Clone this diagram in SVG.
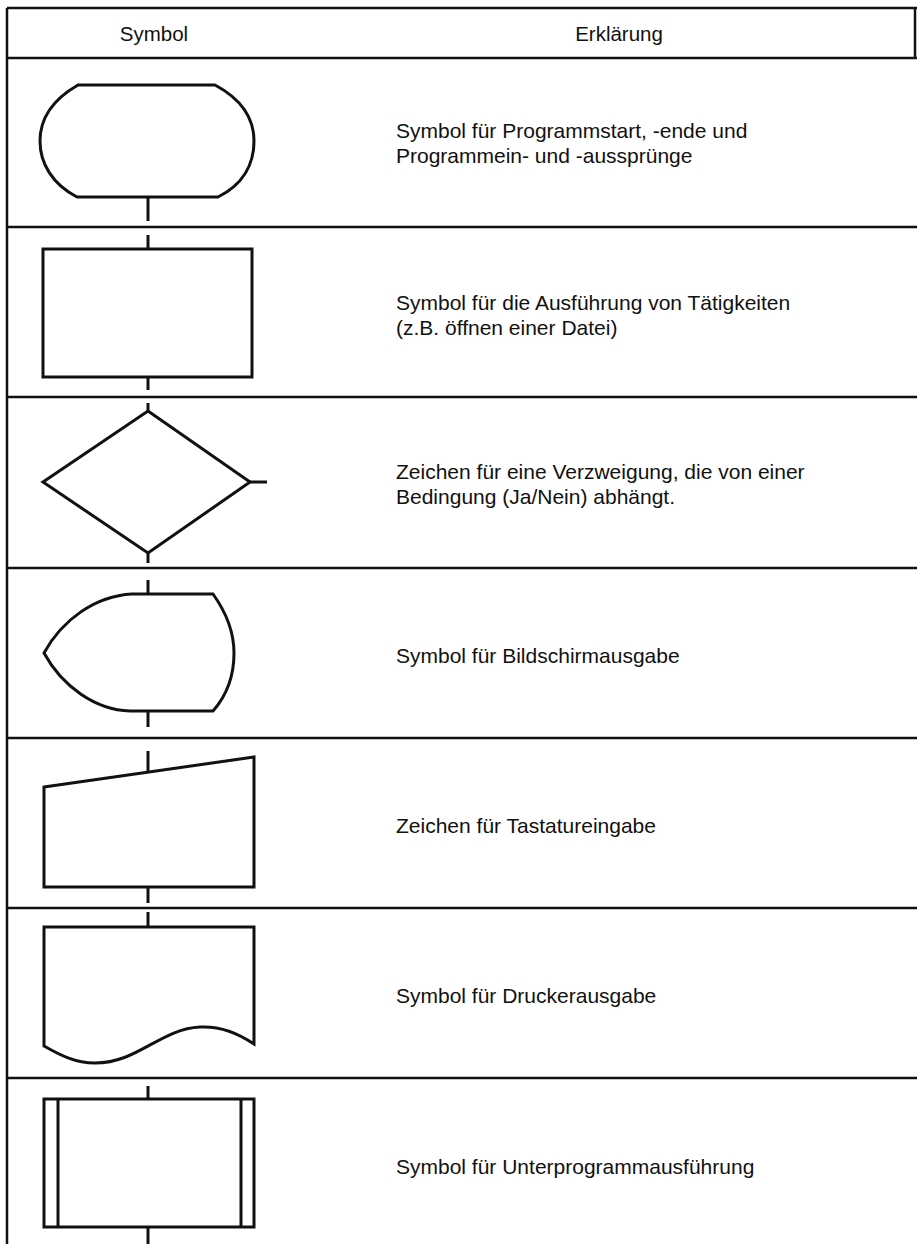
<svg xmlns="http://www.w3.org/2000/svg" width="917" height="1244" viewBox="0 0 917 1244">
<style>
.grid{stroke:#111;stroke-width:2.5;fill:none}
.shape{stroke:#111;stroke-width:3;fill:none;stroke-linejoin:miter}
.conn{stroke:#111;stroke-width:3;fill:none}
.t{font-family:"Liberation Sans",Arial,sans-serif;font-size:21px;fill:#111}
.h{font-family:"Liberation Sans",Arial,sans-serif;font-size:20.5px;fill:#111;text-anchor:middle}
</style>
<rect width="917" height="1244" fill="#fff"/>
<g id="table">
<line class="grid" x1="7" y1="8" x2="917" y2="8"/>
<line class="grid" x1="7" y1="8" x2="7" y2="1244"/>
<line class="grid" x1="915" y1="8" x2="915" y2="58"/>
<line class="grid" x1="7" y1="58" x2="917" y2="58"/>
<line class="grid" x1="7" y1="227" x2="917" y2="227"/>
<line class="grid" x1="7" y1="397" x2="917" y2="397"/>
<line class="grid" x1="7" y1="568" x2="917" y2="568"/>
<line class="grid" x1="7" y1="738" x2="917" y2="738"/>
<line class="grid" x1="7" y1="908" x2="917" y2="908"/>
<line class="grid" x1="7" y1="1078" x2="917" y2="1078"/>
<text class="h" x="154" y="41">Symbol</text>
<text class="h" x="619" y="41">Erklärung</text>
</g>
<g id="terminal">
<path class="shape" d="M78,85 H215 C243,100 254,120 254,141 C254,163 244,184 218,197 H77 C52,184 40,163 40,141 C40,119 52,100 78,85 Z"/>
<text class="t" x="396" y="138">Symbol für Programmstart, -ende und</text>
<text class="t" x="396" y="163">Programmein- und -aussprünge</text>
</g>
<g id="process">
<rect class="shape" x="43" y="249" width="209" height="128"/>
<text class="t" x="396" y="310">Symbol für die Ausführung von Tätigkeiten</text>
<text class="t" x="396" y="335">(z.B. öffnen einer Datei)</text>
</g>
<g id="decision">
<path class="shape" d="M148,411 L250,482 L148,553 L43,482 Z"/>
<text class="t" x="396" y="479">Zeichen für eine Verzweigung, die von einer</text>
<text class="t" x="396" y="504">Bedingung (Ja/Nein) abhängt.</text>
</g>
<g id="display">
<path class="shape" d="M132,594 H213 C228,615 234,635 234,653 C234,675 228,694 213,711 H130 C95,710 62,686 44,653 C62,620 95,596 132,594 Z"/>
<text class="t" x="396" y="663">Symbol für Bildschirmausgabe</text>
</g>
<g id="keyboard">
<path class="shape" d="M44,787 L254,757 V887 H44 Z"/>
<text class="t" x="396" y="833">Zeichen für Tastatureingabe</text>
</g>
<g id="printer">
<path class="shape" d="M44,927 H254 V1044 C235,1031 218,1026 200,1027 C160,1029 138,1063 95,1063 C75,1063 60,1055 44,1046 Z"/>
<text class="t" x="396" y="1003">Symbol für Druckerausgabe</text>
</g>
<g id="subroutine">
<rect class="shape" x="44" y="1099" width="210" height="128"/>
<line class="shape" x1="58" y1="1099" x2="58" y2="1227"/>
<line class="shape" x1="241" y1="1099" x2="241" y2="1227"/>
<text class="t" x="396" y="1174">Symbol für Unterprogrammausführung</text>
</g>
<g id="connectors">
<line class="conn" x1="148" y1="197" x2="148" y2="221"/>
<line class="conn" x1="148" y1="235" x2="148" y2="249"/>
<line class="conn" x1="148" y1="377" x2="148" y2="390"/>
<line class="conn" x1="148" y1="403" x2="148" y2="411"/>
<line class="conn" x1="250" y1="482" x2="267" y2="482"/>
<line class="conn" x1="148" y1="553" x2="148" y2="563"/>
<line class="conn" x1="148" y1="580" x2="148" y2="594"/>
<line class="conn" x1="148" y1="711" x2="148" y2="727"/>
<line class="conn" x1="148" y1="751" x2="148" y2="772"/>
<line class="conn" x1="148" y1="887" x2="148" y2="903"/>
<line class="conn" x1="148" y1="912" x2="148" y2="927"/>
<line class="conn" x1="148" y1="1086" x2="148" y2="1099"/>
<line class="conn" x1="148" y1="1227" x2="148" y2="1244"/>
</g>
</svg>
